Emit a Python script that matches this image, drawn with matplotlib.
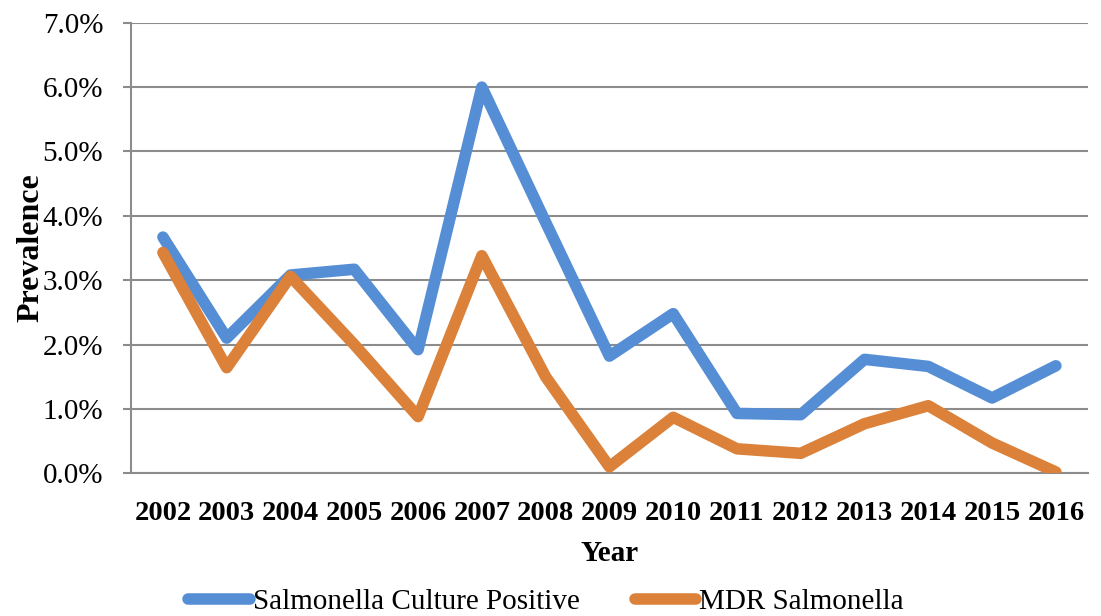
import matplotlib
matplotlib.use("Agg")
import matplotlib.pyplot as plt
from matplotlib.ticker import FuncFormatter

years = ["2002", "2003", "2004", "2005", "2006", "2007", "2008", "2009",
         "2010", "2011", "2012", "2013", "2014", "2015", "2016"]
culture_positive = [3.67, 2.10, 3.08, 3.17, 1.92, 6.00, 3.90, 1.82,
                    2.48, 0.93, 0.91, 1.77, 1.66, 1.17, 1.67]
mdr = [3.43, 1.64, 3.06, 2.00, 0.88, 3.38, 1.50, 0.10,
       0.87, 0.38, 0.31, 0.77, 1.05, 0.47, 0.02]

plt.rcParams['font.family'] = ['Liberation Serif', 'DejaVu Serif']

fig = plt.figure(figsize=(11.01, 6.16), dpi=100)
ax = fig.add_axes([0.119, 0.2317, 0.869, 0.7314])

x = range(len(years))
ax.plot(x, culture_positive, color='#558ed5', lw=8.3, label='Salmonella Culture Positive',
        solid_capstyle='round', solid_joinstyle='round', zorder=3)
ax.plot(x, mdr, color='#db8139', lw=8.3, label='MDR Salmonella',
        solid_capstyle='round', solid_joinstyle='round', zorder=3)

ax.set_xlim(-0.5, len(years) - 0.5)
ax.set_ylim(0, 7)
ax.set_yticks(range(0, 8))
ax.yaxis.set_major_formatter(FuncFormatter(lambda v, p: f"{v:.1f}%"))
ax.set_xticks(list(x))
ax.set_xticklabels(years, fontweight='bold', fontsize=20.5)
ax.tick_params(axis='x', length=0, pad=20)
ax.tick_params(axis='y', labelsize=21, length=6, width=1.5, color='#8c8c8c', pad=14)

ax.grid(axis='y', color='#8c8c8c', lw=1.5, zorder=1)
for s in ['top', 'right']:
    ax.spines[s].set_visible(False)
for s in ['left', 'bottom']:
    ax.spines[s].set_color('#8c8c8c')
    ax.spines[s].set_linewidth(1.5)

ax.set_xlabel('Year', fontweight='bold', fontsize=21, labelpad=10)
ax.set_ylabel('Prevalence', fontweight='bold', fontsize=23, labelpad=-2)

fig.legend(loc='center', bbox_to_anchor=(546 / 1101, 14 / 616), ncol=2, frameon=False,
           fontsize=21, handlelength=2.1, handletextpad=0.1, columnspacing=1.9)

fig.savefig('out.png', dpi=100)
